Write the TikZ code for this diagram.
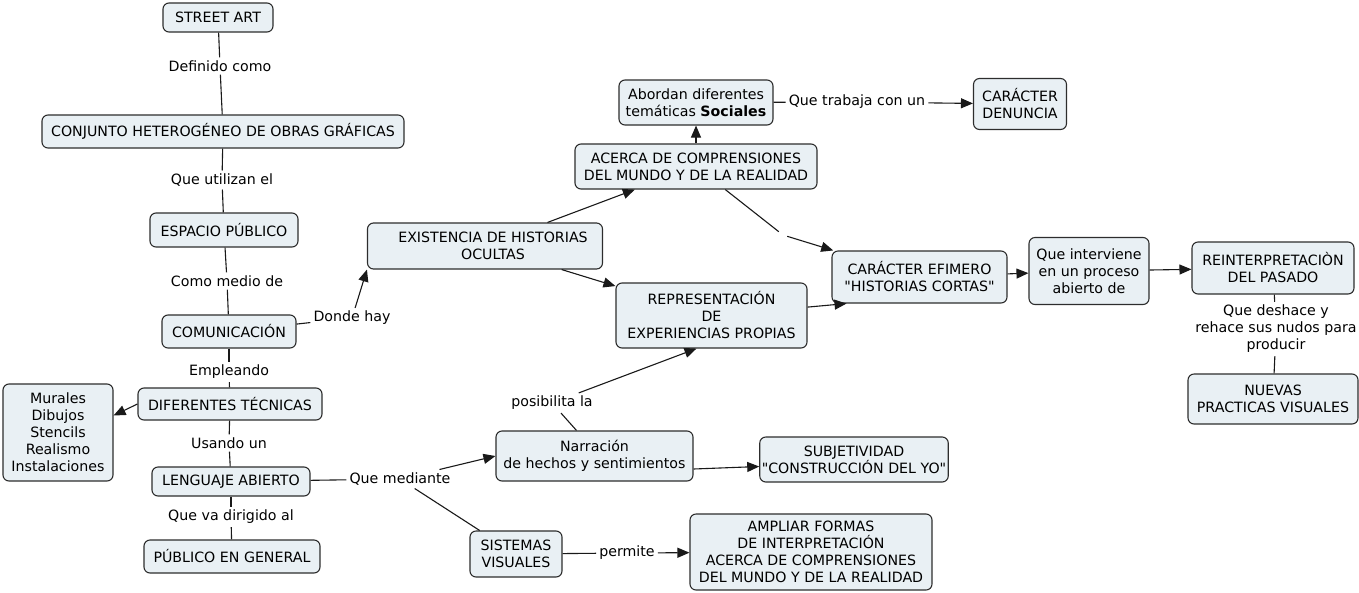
\documentclass[tikz,border=0pt]{standalone}
\usepackage{fontspec}
\setmainfont{DejaVu Sans}[Ligatures=TeXOff]
\usetikzlibrary{arrows.meta}
\definecolor{boxfill}{RGB}{233,240,244}
\definecolor{boxline}{RGB}{45,45,45}
\tikzset{
	concept/.style={draw=boxline, line width=1.1pt, fill=boxfill, rounded corners=6pt, align=center, inner sep=2pt, font=\fontsize{14.2}{17}\selectfont},
	sz/.style 2 args={minimum width=#1pt, minimum height=#2pt},
	linkword/.style={align=center, inner sep=3pt, font=\fontsize{14.2}{17}\selectfont},
	link/.style={draw=black!90, line width=1.1pt},
	arr/.style={link, -{Triangle[length=12pt,width=10pt]}},
}
\begin{document}
\begin{tikzpicture}[x=1pt,y=-1pt]
			\useasboundingbox (0,0) rectangle (1359,592);

			\node(street) [concept, sz={110}{29}] at (218,17.5) {STREET ART};
			\node(conjunto) [concept, sz={362}{33}] at (223,131.5) {CONJUNTO HETEROGÉNEO DE OBRAS GRÁFICAS};
			\node(espacio) [concept, sz={148}{34}] at (224,230) {ESPACIO PÚBLICO};
			\node(comunic) [concept, sz={134}{33}] at (229,331.5) {COMUNICACIÓN};
			\node(tecnicas) [concept, sz={184}{32}] at (230,404) {DIFERENTES TÉCNICAS};
			\node(murales) [concept, sz={110}{97}] at (58,432.5) {Murales\\Dibujos\\Stencils\\Realismo\\Instalaciones};
			\node(lenguaje) [concept, sz={158}{29}] at (231,481.5) {LENGUAJE ABIERTO};
			\node(publico) [concept, sz={176}{33}] at (232,556.5) {PÚBLICO EN GENERAL};

			\node(existencia) [concept, sz={235}{46}] at (485,246) {\hspace{16pt}EXISTENCIA DE HISTORIAS\\\hspace{16pt}OCULTAS};
			\node(acerca) [concept, sz={242}{45}] at (696,166.5) {ACERCA DE COMPRENSIONES\\DEL MUNDO Y DE LA REALIDAD};
			\node(abordan) [concept, sz={154}{45}] at (696,102.5) {Abordan diferentes\\temáticas \textbf{Sociales}};
			\node(denuncia) [concept, sz={93}{51}] at (1020,104) {CARÁCTER\\DENUNCIA};
			\node(represent) [concept, sz={191}{65}] at (711.5,315.5) {REPRESENTACIÓN\\DE\\EXPERIENCIAS PROPIAS};
			\node(efimero) [concept, sz={175}{52}] at (919.5,277) {CARÁCTER EFIMERO\\"HISTORIAS CORTAS"};
			\node(interviene) [concept, sz={120}{67}] at (1089,271) {Que interviene\\en un proceso\\abierto de};
			\node(reinterp) [concept, sz={162}{52}] at (1273,268) {REINTERPRETACIÒN\\DEL PASADO};
			\node(nuevas) [concept, sz={170}{50}] at (1273,399) {NUEVAS\\PRACTICAS VISUALES};
			\node(narracion) [concept, sz={197}{50}] at (594.5,456) {Narración\\de hechos y sentimientos};
			\node(subjetiv) [concept, sz={176}{45}] at (854,459.5) {SUBJETIVIDAD\\"CONSTRUCCIÓN DEL YO"};
			\node(sistemas) [concept, sz={92}{46}] at (516,554) {SISTEMAS\\VISUALES};
			\node(ampliar) [concept, sz={242}{76}] at (811,552) {AMPLIAR FORMAS\\DE INTERPRETACIÓN\\ACERCA DE COMPRENSIONES\\DEL MUNDO Y DE LA REALIDAD};

			\node(definido) [linkword] at (220,66) {Definido como};
			\node(utilizan) [linkword] at (222,180) {Que utilizan el};
			\node(medio) [linkword] at (227,281) {Como medio de};
			\node(donde) [linkword] at (352,318) {Donde hay};
			\node(empleando) [linkword] at (229,372) {Empleando};
			\node(usando) [linkword] at (229,443) {Usando un};
			\node(dirigido) [linkword] at (231,517) {Que va dirigido al};
			\node(mediante) [linkword] at (400,479) {Que mediante};
			\node(posibilita) [linkword] at (552,403) {posibilita la};
			\node(permite) [linkword] at (627,553) {permite};
			\node(trabaja) [linkword] at (857,102) {Que trabaja con un};
			\node(deshace) [linkword] at (1276,329) {Que deshace y\\rehace sus nudos para\\producir};
			\node(hueco) [minimum size=8pt, inner sep=0pt] at (783,235) {};

			\draw[link] (street) -- (definido);
			\draw[link] (definido) -- (conjunto);
			\draw[link] (conjunto) -- (utilizan);
			\draw[link] (utilizan) -- (espacio);
			\draw[link] (espacio) -- (medio);
			\draw[link] (medio) -- (comunic);
			\draw[link] (comunic) -- (donde);
			\draw[arr] (donde) -- (existencia.south west);
			\draw[link] (comunic) -- (empleando);
			\draw[link] (empleando) -- (tecnicas);
			\draw[arr] (tecnicas.west) -- (murales.17);
			\draw[link] (tecnicas) -- (usando);
			\draw[link] (usando) -- (lenguaje);
			\draw[link] (lenguaje) -- (dirigido);
			\draw[link] (dirigido) -- (publico);
			\draw[link] (lenguaje) -- (mediante);
			\draw[arr] (mediante) -- (narracion.west);
			\draw[link] (mediante) -- (sistemas);
			\draw[link] (sistemas) -- (permite);
			\draw[arr] (permite) -- (ampliar);
			\draw[arr] ([yshift=-13pt]narracion.east) -- ([yshift=-7pt]subjetiv.west);
			\draw[link] (posibilita) -- ([xshift=-18pt]narracion.north);
			\draw[arr] (posibilita) -- ([xshift=-15pt]represent.south);
			\draw[arr] (existencia) -- (acerca);
			\draw[arr] (existencia) -- (represent);
			\draw[arr] (acerca) -- (abordan);
			\draw[link] (abordan) -- (trabaja);
			\draw[arr] (trabaja) -- (denuncia);
			\draw[link] (acerca) -- (hueco);
			\draw[arr] (hueco) -- (efimero);
			\draw[arr] (represent.5) -- (efimero.200);
			\draw[arr] (efimero) -- (interviene);
			\draw[arr] (interviene) -- (reinterp);
			\draw[link] (reinterp) -- (deshace);
			\draw[link] (deshace) -- (nuevas);
		\end{tikzpicture}
\end{document}
